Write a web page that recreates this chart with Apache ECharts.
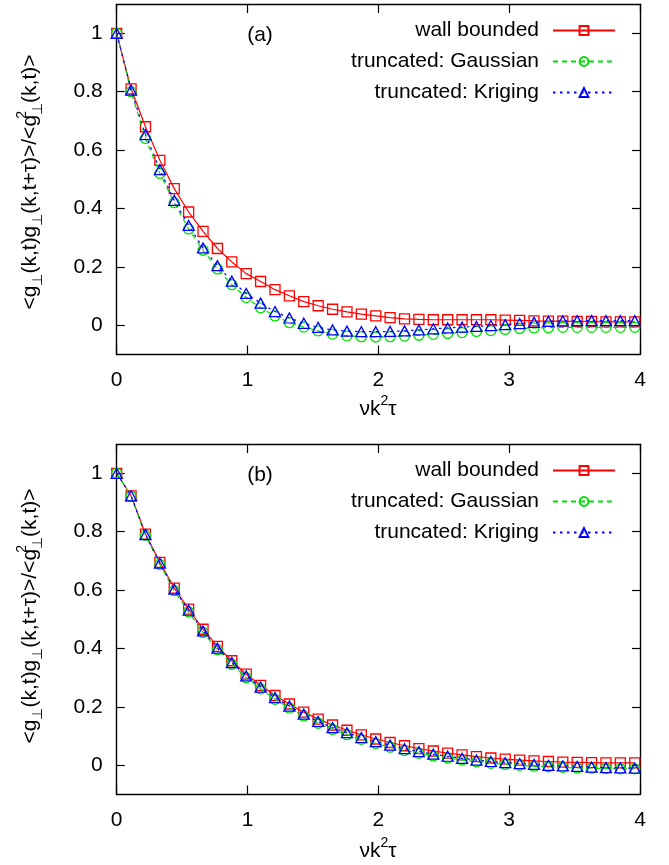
<!DOCTYPE html>
<html><head><meta charset="utf-8">
<script src="https://cdn.jsdelivr.net/npm/echarts@6/dist/echarts.min.js"></script>
<style>html,body{margin:0;padding:0;background:#fff}#c{width:669px;height:865px}</style>
</head><body><div id="c"></div>
<script>
const xs = [0,0.11,0.22,0.33,0.44,0.55,0.66,0.77,0.88,0.99,1.10,1.21,1.32,1.43,1.54,1.65,1.76,1.87,1.98,2.09,2.20,2.31,2.42,2.53,2.64,2.75,2.86,2.97,3.08,3.19,3.30,3.41,3.52,3.63,3.74,3.85,3.96];

const topWall  = [1.0,0.81,0.68,0.565,0.468,0.388,0.322,0.263,0.217,0.177,0.150,0.122,0.101,0.081,0.067,0.055,0.046,0.038,0.032,0.026,0.022,0.020,0.019,0.019,0.019,0.019,0.019,0.018,0.017,0.015,0.014,0.014,0.013,0.013,0.012,0.012,0.012];
const topGauss = [1.0,0.80,0.64,0.52,0.42,0.33,0.257,0.193,0.139,0.095,0.060,0.032,0.009,-0.006,-0.019,-0.030,-0.036,-0.039,-0.040,-0.039,-0.037,-0.034,-0.031,-0.028,-0.025,-0.021,-0.018,-0.014,-0.011,-0.009,-0.008,-0.007,-0.007,-0.007,-0.007,-0.007,-0.007];
const topKrig  = [1.0,0.805,0.653,0.533,0.428,0.342,0.265,0.204,0.151,0.109,0.076,0.047,0.025,0.007,-0.007,-0.016,-0.020,-0.022,-0.022,-0.021,-0.019,-0.016,-0.012,-0.009,-0.006,-0.004,-0.001,0.002,0.006,0.010,0.013,0.015,0.016,0.016,0.016,0.016,0.016];

const botWall  = [1.0,0.923,0.792,0.695,0.607,0.535,0.466,0.407,0.358,0.312,0.274,0.239,0.210,0.182,0.158,0.138,0.120,0.104,0.090,0.078,0.067,0.057,0.049,0.042,0.036,0.030,0.025,0.021,0.018,0.015,0.013,0.011,0.010,0.009,0.008,0.008,0.008];
const botGauss = [1.0,0.921,0.788,0.688,0.598,0.525,0.455,0.396,0.346,0.300,0.262,0.226,0.196,0.169,0.144,0.123,0.105,0.089,0.075,0.062,0.051,0.041,0.032,0.025,0.018,0.012,0.007,0.003,0.000,-0.003,-0.005,-0.007,-0.009,-0.010,-0.011,-0.012,-0.012];
const botKrig  = [1.0,0.923,0.790,0.692,0.603,0.531,0.460,0.401,0.352,0.306,0.268,0.232,0.203,0.175,0.150,0.129,0.112,0.095,0.081,0.069,0.057,0.047,0.038,0.031,0.024,0.018,0.013,0.009,0.006,0.003,0.000,-0.002,-0.004,-0.006,-0.008,-0.009,-0.010];

const xTicks = [0,1,2,3,4];
const yTicks = [0,0.2,0.4,0.6,0.8,1];
const names = ['wall bounded','truncated: Gaussian','truncated: Kriging'];
const panelLabels = ['(a)','(b)'];

const FONT = '"Liberation Sans", Arial, Helvetica, sans-serif';
const FS = 21;
const colors = ['#ff0000','#00e000','#0000ff'];
const symbols = ['rect','circle','triangle'];
const dashes = ['solid',[5,4],[2.5,4.5]];

function pairs(v){ return xs.map((x,i)=>[x,v[i]]); }

const grids = [
  {left:116.7, right:29, top:4.1, height:350.4},
  {left:116.7, right:29, top:444.1, height:350.4}
];

function xAx(gi,pos,lab){
  return {type:'value',gridIndex:gi,position:pos,min:0,max:4,interval:1,
    axisLine:{onZero:false,lineStyle:{color:'#000',width:1.4}},
    axisTick:{inside:true,length:9,lineStyle:{color:'#000',width:1.2}},
    axisLabel:{show:lab,color:'#000',fontSize:FS,fontFamily:FONT,margin:15,
      customValues:xTicks},
    splitLine:{show:false}};
}
function yAx(gi,pos,lab){
  return {type:'value',gridIndex:gi,position:pos,min:-0.1,max:1.1,
    axisLine:{onZero:false,lineStyle:{color:'#000',width:1.4}},
    axisTick:{inside:true,length:8,lineStyle:{color:'#000',width:1.2},customValues:yTicks},
    axisLabel:{show:lab,color:'#000',fontSize:FS,fontFamily:FONT,margin:14,customValues:yTicks},
    splitLine:{show:false}};
}

const series = [];
const panels = [[topWall,topGauss,topKrig],[botWall,botGauss,botKrig]];
panels.forEach((arrs,p)=>{
  arrs.forEach((v,k)=>{
    series.push({
      type:'line', name:names[k], xAxisIndex:p*2, yAxisIndex:p*2,
      data:pairs(v), clip:false, symbol:symbols[k],
      symbolSize: k===2 ? [11,10] : 10,
      showAllSymbol:true, animation:false,
      lineStyle:{color:colors[k],width:1.2,type:dashes[k]},
      itemStyle:{color:'rgba(255,255,255,0)',borderColor:colors[k],borderWidth:1.3},
      z: 2+k
    });
  });
});

function yTitle(cx,cy){
  return {type:'text', x:cx, y:cy, rotation:Math.PI/2,
    style:{
      text:'{n|<g}{s|⊥}{n|(k,t)g}{s|⊥}{n|(k,t+τ)>/<g}{p|2}{s|⊥}{n|(k,t)>}',
      align:'center', verticalAlign:'middle', fill:'#000',
      rich:{
        n:{fontSize:FS,fontFamily:FONT,lineHeight:30,verticalAlign:'middle',fill:'#000'},
        s:{fontSize:14,fontFamily:FONT,lineHeight:14,verticalAlign:'bottom',fill:'#000'},
        p:{fontSize:14,fontFamily:FONT,lineHeight:14,verticalAlign:'top',fill:'#000',width:0}
      }
    }};
}
function xTitle(cx,cy){
  return {type:'text', x:cx, y:cy,
    style:{
      text:'{n|νk}{p|2}{n|τ}', align:'center', verticalAlign:'middle', fill:'#000',
      rich:{
        n:{fontSize:FS,fontFamily:FONT,lineHeight:30,verticalAlign:'middle',fill:'#000'},
        p:{fontSize:14,fontFamily:FONT,lineHeight:14,verticalAlign:'top',fill:'#000'}
      }
    }};
}
function pLabel(t,cx,cy){
  return {type:'text',x:cx,y:cy,style:{text:t,font:FS+'px '+FONT,fill:'#000',align:'center',verticalAlign:'middle'}};
}

function legend(top){
  return {orient:'vertical', top:top, right:48, align:'right',
    itemWidth:62, itemHeight:11, itemGap:10,
    data:names,
    textStyle:{fontSize:FS,fontFamily:FONT,color:'#000',padding:[0,9,0,0]},
    selectedMode:false};
}

const option = {
  animation:false,
  backgroundColor:'#fff',
  grid:grids,
  xAxis:[xAx(0,'bottom',true),xAx(0,'top',false),xAx(1,'bottom',true),xAx(1,'top',false)],
  yAxis:[yAx(0,'left',true),yAx(0,'right',false),yAx(1,'left',true),yAx(1,'right',false)],
  legend:[legend(15),legend(455)],
  series:series,
  graphic:[
    yTitle(30,182), yTitle(30,616),
    xTitle(378,409), xTitle(378,851),
    pLabel(panelLabels[0],260,35), pLabel(panelLabels[1],260,475)
  ]
};
const chart = echarts.init(document.getElementById('c'),null,{renderer:'canvas'});
chart.setOption(option);
</script></body></html>
